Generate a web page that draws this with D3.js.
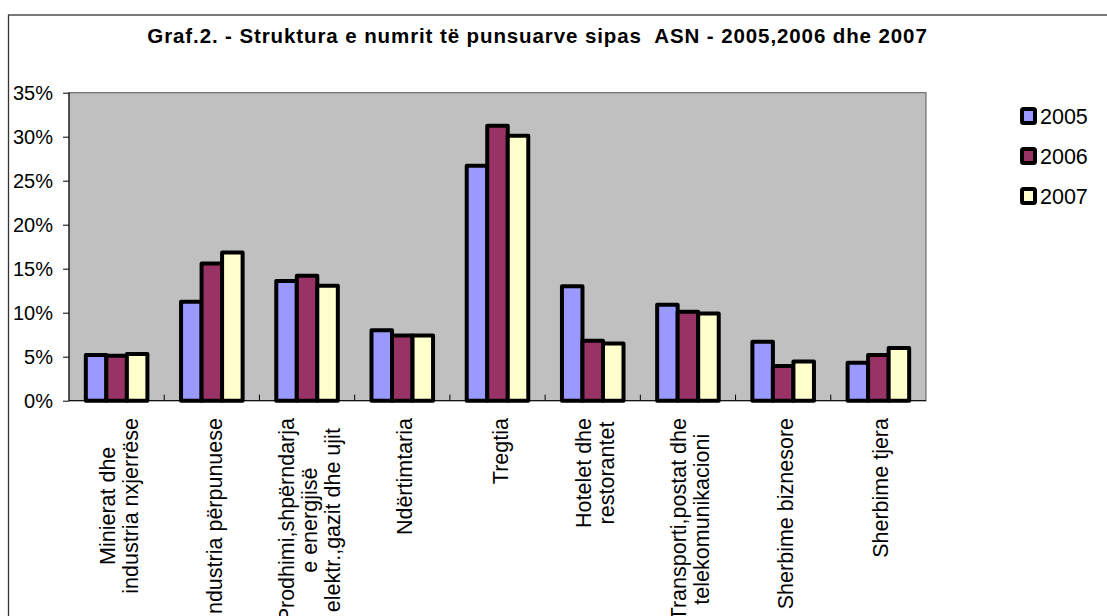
<!DOCTYPE html>
<html>
<head>
<meta charset="utf-8">
<title>Graf.2</title>
<script src="https://d3js.org/d3.v7.min.js"></script>
<style>
body { margin: 0; background: #fff; }
svg text { font-family: "Liberation Sans", Arial, sans-serif; fill: #000; }
</style>
</head>
<body>
<svg id="chart" width="1107" height="616"></svg>

<script>
// categories (label lines split with "|")
var categories = [
	"Minierat dhe|industria nxjerrëse",
	"Industria përpunuese",
	"Prodhimi,shpërndarja|e energjisë|elektr.,gazit dhe ujit",
	"Ndërtimtaria",
	"Tregtia",
	"Hotelet dhe|restorantet",
	"Transporti,postat dhe|telekomunikacioni",
	"Sherbime biznesore",
	"Sherbime tjera"
];
var years = ["2005", "2006", "2007"];
var colors = ["#9999FF", "#993366", "#FFFFCC"];

// percent values
var v2005 = [5.2, 11.25, 13.6, 8.0, 26.7, 13.0, 10.9, 6.7, 4.3];
var v2006 = [5.1, 15.6, 14.2, 7.4, 31.25, 6.8, 10.1, 3.95, 5.2];
var v2007 = [5.3, 16.85, 13.05, 7.4, 30.1, 6.5, 9.9, 4.45, 6.0];
var yTicks = [0, 5, 10, 15, 20, 25, 30, 35];

var series = [v2005, v2006, v2007];

var svg = d3.select("#chart");

// outer chart frame
svg.append("rect")
	.attr("x", 8.5).attr("y", 15)
	.attr("width", 1200).attr("height", 700)
	.attr("fill", "none")
	.attr("stroke", "#333")
	.attr("stroke-width", 1.3);

// title
svg.append("text")
	.attr("x", 537.5)
	.attr("y", 43.3)
	.attr("text-anchor", "middle")
	.attr("font-size", 20.5)
	.attr("font-weight", "bold")
	.attr("letter-spacing", 0.9)
	.attr("xml:space", "preserve")
	.text("Graf.2. - Struktura e numrit të punsuarve sipas  ASN - 2005,2006 dhe 2007");

var plotL = 69, plotR = 926, plotT = 92.7, plotB = 400.7;

var x = d3.scaleBand().domain(d3.range(categories.length)).range([plotL, plotR]);
var x1 = d3.scaleBand().domain(d3.range(years.length)).range([0, x.bandwidth()]).paddingOuter(0.82);
var y = d3.scaleLinear().domain([0, 35]).range([plotB, plotT]);

// plot area
svg.append("rect")
	.attr("x", plotL).attr("y", plotT)
	.attr("width", plotR - plotL).attr("height", plotB - plotT)
	.attr("fill", "#C0C0C0")
	.attr("stroke", "#555")
	.attr("stroke-width", 1);

// bars
var groups = svg.selectAll("g.cat")
	.data(categories)
	.enter().append("g")
	.attr("class", "cat")
	.attr("transform", function (d, i) { return "translate(" + x(i) + ",0)"; });

groups.selectAll("rect")
	.data(function (d, i) { return series.map(function (s, k) { return { k: k, v: s[i] }; }); })
	.enter().append("rect")
	.attr("x", function (d) { return x1(d.k); })
	.attr("y", function (d) { return y(d.v); })
	.attr("width", x1.bandwidth())
	.attr("height", function (d) { return y(0) - y(d.v); })
	.attr("fill", function (d) { return colors[d.k]; })
	.attr("stroke", "#000")
	.attr("stroke-width", 4)
	.attr("stroke-linejoin", "round");

// y axis
var yAxis = d3.axisLeft(y)
	.tickValues(yTicks)
	.tickSize(6)
	.tickPadding(10)
	.tickFormat(function (d) { return d + "%"; });

var gy = svg.append("g")
	.attr("transform", "translate(" + plotL + ",0)")
	.call(yAxis);
gy.select(".domain").remove();
gy.selectAll("line").attr("stroke", "#000");
gy.selectAll("text")
	.attr("font-size", 20)
	.attr("font-family", "Liberation Sans, Arial, sans-serif")
	.attr("dy", "0.36em");

// axis lines
svg.append("line")
	.attr("x1", plotL).attr("x2", plotL)
	.attr("y1", plotT).attr("y2", plotB)
	.attr("stroke", "#000");
svg.append("line")
	.attr("x1", plotL).attr("x2", plotR)
	.attr("y1", plotB).attr("y2", plotB)
	.attr("stroke", "#000");

// x ticks between categories (pointing up)
svg.selectAll("line.xtick")
	.data(d3.range(1, categories.length))
	.enter().append("line")
	.attr("class", "xtick")
	.attr("x1", function (i) { return x(i); })
	.attr("x2", function (i) { return x(i); })
	.attr("y1", plotB - 6)
	.attr("y2", plotB)
	.attr("stroke", "#000");

// x labels, rotated, lines centred inside a block that hangs from the axis
var lineGap = 23;
categories.forEach(function (c, i) {
	var lines = c.split("|");
	var cx = x(i) + x.bandwidth() / 2;
	var g = svg.append("g")
		.attr("transform", "translate(" + cx + ",418) rotate(-90)");
	var texts = lines.map(function (l, j) {
		return g.append("text")
			.attr("font-size", 21.5)
			.attr("text-anchor", "middle")
			.attr("y", (j - (lines.length - 1) / 2) * lineGap + 10)
			.text(l);
	});
	var w = d3.max(texts, function (t) { return t.node().getComputedTextLength(); });
	texts.forEach(function (t) { t.attr("x", -w / 2); });
});

// legend
var legend = svg.selectAll("g.legend")
	.data(years)
	.enter().append("g")
	.attr("class", "legend")
	.attr("transform", function (d, i) { return "translate(1022," + (116 + i * 40) + ")"; });

legend.append("rect")
	.attr("x", 0).attr("y", -7)
	.attr("width", 13).attr("height", 14)
	.attr("fill", function (d, i) { return colors[i]; })
	.attr("stroke", "#000")
	.attr("stroke-width", 4)
	.attr("rx", 1.5);

legend.append("text")
	.attr("x", 18)
	.attr("y", 8.3)
	.attr("font-size", 21.5)
	.text(function (d) { return d; });
</script>
</body>
</html>
